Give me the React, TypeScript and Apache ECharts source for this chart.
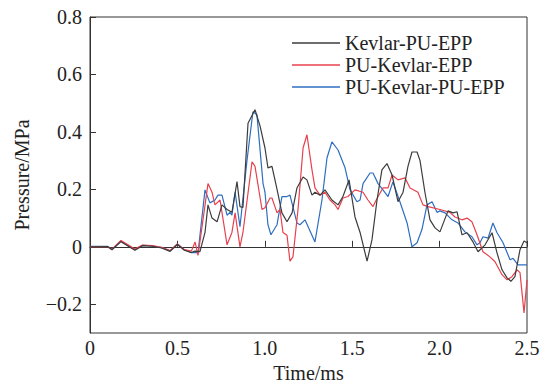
import React, { useEffect, useRef } from "react";
import * as echarts from "echarts";

const seriesNames = ["Kevlar-PU-EPP", "PU-Kevlar-EPP", "PU-Kevlar-PU-EPP"];
const seriesColors = ["#3c3c3c", "#e8404c", "#2e6ec0"];

const yTickValues = [-0.2, 0, 0.2, 0.4, 0.6, 0.8];

const kevlarPuEpp: [number, number][] = [
  [0, 0], [0.1, 0.001], [0.126, -0.01], [0.177, 0.018], [0.257, -0.012], [0.3, 0.004],
  [0.355, 0.002], [0.41, -0.004], [0.458, -0.016], [0.5, 0.008], [0.54, -0.012], [0.58, -0.02],
  [0.6, -0.015], [0.629, -0.017], [0.658, 0.05], [0.675, 0.146], [0.698, 0.1], [0.727, 0.087],
  [0.755, 0.146], [0.784, 0.13], [0.812, 0.12], [0.841, 0.227], [0.858, 0.14], [0.875, 0.137],
  [0.904, 0.43], [0.944, 0.477], [0.973, 0.42], [1.001, 0.344], [1.018, 0.275], [1.041, 0.28],
  [1.07, 0.2], [1.098, 0.118], [1.127, 0.087], [1.156, 0.118], [1.184, 0.205], [1.219, 0.243],
  [1.241, 0.233], [1.27, 0.18], [1.287, 0.19], [1.316, 0.18], [1.344, 0.198], [1.384, 0.163],
  [1.419, 0.146], [1.447, 0.175], [1.482, 0.233], [1.516, 0.104], [1.545, 0.05], [1.585, -0.05],
  [1.613, 0.024], [1.642, 0.163], [1.67, 0.268], [1.699, 0.29], [1.728, 0.25], [1.762, 0.157],
  [1.791, 0.19], [1.819, 0.28], [1.842, 0.33], [1.871, 0.33], [1.888, 0.3], [1.916, 0.19],
  [1.945, 0.094], [1.974, 0.066], [2.002, 0.052], [2.048, 0.125], [2.077, 0.118], [2.1, 0.122],
  [2.128, 0.042], [2.157, 0.049], [2.191, 0.017], [2.22, -0.017], [2.26, 0.007], [2.3, 0.049],
  [2.328, -0.02], [2.357, -0.08], [2.386, -0.108], [2.408, -0.12], [2.431, -0.104], [2.46, -0.01],
  [2.483, 0.02], [2.5, 0.014],
];

const puKevlarEpp: [number, number][] = [
  [0, 0], [0.1, 0.0], [0.126, -0.008], [0.177, 0.022], [0.257, -0.008], [0.3, 0.006],
  [0.355, 0.004], [0.41, -0.002], [0.458, -0.013], [0.5, 0.01], [0.54, -0.01], [0.58, -0.015],
  [0.601, 0.017], [0.618, -0.03], [0.641, 0.07], [0.675, 0.22], [0.698, 0.19], [0.715, 0.146],
  [0.744, 0.163], [0.784, 0.007], [0.812, 0.05], [0.83, 0.118], [0.858, 0.0], [0.875, 0.05],
  [0.927, 0.296], [0.944, 0.28], [0.984, 0.13], [1.001, 0.136], [1.03, 0.17], [1.041, 0.17],
  [1.07, 0.118], [1.087, 0.13], [1.104, 0.05], [1.127, 0.04], [1.144, -0.05], [1.161, -0.035],
  [1.19, 0.13], [1.219, 0.344], [1.241, 0.39], [1.27, 0.268], [1.287, 0.205], [1.316, 0.18],
  [1.344, 0.19], [1.373, 0.163], [1.402, 0.146], [1.419, 0.13], [1.447, 0.17], [1.476, 0.175],
  [1.516, 0.198], [1.562, 0.19], [1.59, 0.163], [1.619, 0.14], [1.648, 0.175], [1.676, 0.205],
  [1.705, 0.205], [1.728, 0.25], [1.762, 0.233], [1.802, 0.24], [1.831, 0.205], [1.876, 0.19],
  [1.905, 0.146], [1.934, 0.14], [2.002, 0.13], [2.059, 0.12], [2.088, 0.104], [2.128, 0.094],
  [2.157, 0.1], [2.185, 0.087], [2.214, 0.042], [2.248, -0.017], [2.288, -0.035], [2.317, -0.052],
  [2.357, -0.097], [2.386, -0.115], [2.414, -0.104], [2.443, -0.08], [2.46, -0.09], [2.483, -0.23],
  [2.5, -0.115],
];

const puKevlarPuEpp: [number, number][] = [
  [0, 0.002], [0.1, 0.002], [0.126, -0.009], [0.177, 0.02], [0.257, -0.01], [0.3, 0.005],
  [0.355, 0.003], [0.41, -0.003], [0.458, -0.014], [0.5, 0.01], [0.54, -0.01], [0.58, -0.02],
  [0.6, -0.02], [0.618, -0.02], [0.658, 0.198], [0.686, 0.153], [0.715, 0.163], [0.732, 0.18],
  [0.755, 0.18], [0.784, 0.11], [0.801, 0.12], [0.812, 0.11], [0.83, 0.19], [0.858, 0.07],
  [0.898, 0.3], [0.932, 0.47], [0.955, 0.46], [0.99, 0.22], [1.001, 0.19], [1.018, 0.077],
  [1.035, 0.042], [1.07, 0.077], [1.098, 0.175], [1.127, 0.175], [1.144, 0.18], [1.184, 0.083],
  [1.201, 0.077], [1.23, 0.094], [1.287, 0.017], [1.327, 0.163], [1.356, 0.31], [1.384, 0.365],
  [1.419, 0.337], [1.459, 0.275], [1.487, 0.2], [1.527, 0.157], [1.545, 0.163], [1.562, 0.22],
  [1.602, 0.257], [1.619, 0.257], [1.648, 0.22], [1.676, 0.198], [1.705, 0.175], [1.733, 0.226],
  [1.773, 0.157], [1.814, 0.083], [1.842, 0.0], [1.871, 0.014], [1.899, 0.06], [1.928, 0.146],
  [1.957, 0.157], [1.985, 0.12], [2.002, 0.125], [2.031, 0.118], [2.071, 0.094], [2.105, 0.083],
  [2.145, 0.052], [2.185, 0.035], [2.214, 0.007], [2.231, 0.014], [2.248, 0.035], [2.277, 0.03],
  [2.305, 0.083], [2.328, 0.05], [2.363, 0.014], [2.403, -0.045], [2.42, -0.04], [2.449, -0.063],
  [2.5, -0.063],
];

const allSeries = [kevlarPuEpp, puKevlarEpp, puKevlarPuEpp];

const FONT = "'Liberation Serif', 'Times New Roman', serif";
const FS = 20;
const TXT = "#222222";

export default function App() {
  const ref = useRef<HTMLDivElement>(null);
  useEffect(() => {
    document.body.style.margin = "0";
    if (!ref.current) return;
    const chart = echarts.init(ref.current, undefined, { renderer: "svg" });
    chart.setOption({
      animation: false,
      backgroundColor: "#ffffff",
      textStyle: { fontFamily: FONT },
      grid: {
        left: 90,
        right: 18,
        top: 17,
        bottom: 59,
        show: true,
        borderColor: "#333333",
        borderWidth: 1,
        backgroundColor: "transparent",
      },
      legend: {
        orient: "vertical",
        left: 287,
        top: 28,
        icon: "rect",
        itemWidth: 48,
        itemHeight: 1.3,
        itemGap: 2,
        textStyle: { fontFamily: FONT, fontSize: FS, color: TXT },
        data: seriesNames,
      },
      xAxis: {
        type: "value",
        min: 0,
        max: 2.5,
        interval: 0.5,
        name: "Time/ms",
        nameLocation: "middle",
        nameGap: 25,
        nameTextStyle: { fontFamily: FONT, fontSize: FS, color: TXT },
        axisLine: { show: true, lineStyle: { color: "#333", width: 1 } },
        axisTick: { show: true, inside: true, length: 6, lineStyle: { color: "#333" } },
        axisLabel: {
          fontFamily: FONT,
          fontSize: FS,
          color: TXT,
          margin: 5,
          formatter: (v: number) => (v === 0 ? "0" : v.toFixed(1)),
        },
        splitLine: { show: false },
      },
      yAxis: {
        type: "value",
        min: -0.3,
        max: 0.8,
        name: "Pressure/MPa",
        nameLocation: "middle",
        nameGap: 58,
        nameTextStyle: { fontFamily: FONT, fontSize: FS, color: TXT },
        axisLine: { show: true, lineStyle: { color: "#333", width: 1 } },
        axisTick: {
          show: true,
          inside: true,
          length: 6,
          customValues: yTickValues,
          lineStyle: { color: "#333" },
        },
        axisLabel: {
          fontFamily: FONT,
          fontSize: FS,
          color: TXT,
          margin: 8,
          customValues: yTickValues,
          formatter: (v: number) =>
            v === 0 ? "0" : (v < 0 ? "\u2212" : "") + Math.abs(v).toFixed(1),
        },
        splitLine: { show: false },
      },
      series: allSeries.map((d, i) => ({
        name: seriesNames[i],
        type: "line",
        data: d,
        symbol: "none",
        showSymbol: false,
        lineStyle: { color: seriesColors[i], width: 1.2 },
        itemStyle: { color: seriesColors[i] },
        z: 3 - i,
      })),
    });
    return () => chart.dispose();
  }, []);
  return <div ref={ref} style={{ width: 545, height: 392 }} />;
}
